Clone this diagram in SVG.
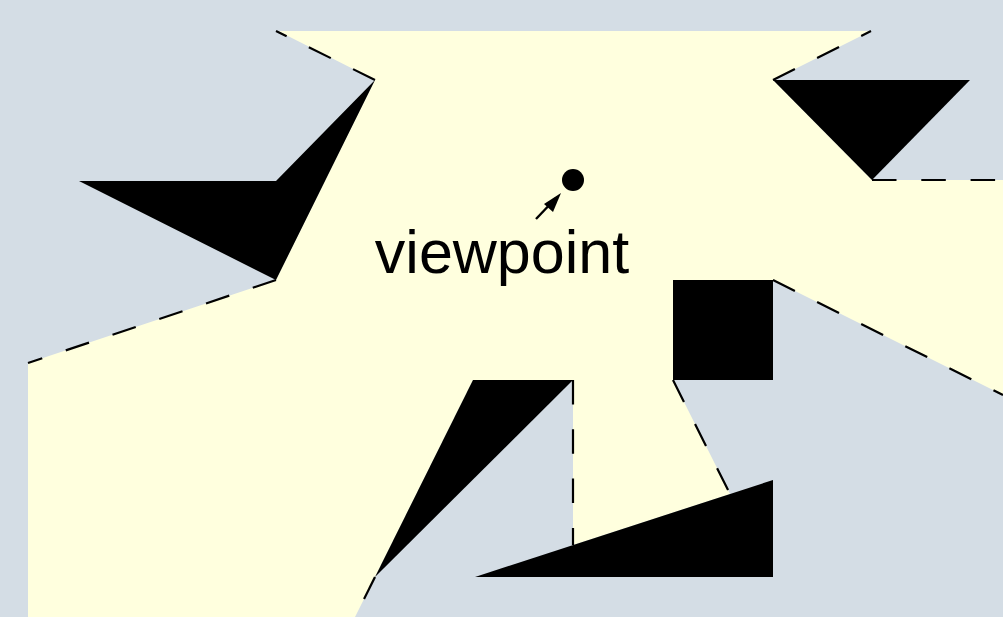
<svg xmlns="http://www.w3.org/2000/svg" width="1003" height="617" viewBox="0 0 1003 617">
<style>
.obs{fill:#000}
.ray{fill:none;stroke:#000;stroke-width:2.2;stroke-dasharray:24.5 24.8}
.lbl{font-family:"Liberation Sans",Arial,sans-serif;font-size:61px;fill:#000}
</style>
<defs>
<marker id="ah" markerWidth="8" markerHeight="8" refX="7" refY="4" orient="auto" markerUnits="strokeWidth">
<path d="M0,0 L7,4 L0,8 Z" fill="#000"/>
</marker>
</defs>
<rect id="background" x="0" y="0" width="1003" height="617" fill="#d4dde5"/>
<polygon id="visible" fill="#ffffde" points="278,31 871,31 773,80 872,180 1003,180 1003,395 773,280 673,280 673,380 730,494 573,545 573,380 473,380 375,577 355,617 28,617 28,363 276,280 375,80"/>
<g id="obstacles">
<polygon id="obstacle-left" class="obs" points="79,181 276,181 375,80 276,280"/>
<polygon id="obstacle-topright" class="obs" points="773,80 970,80 872,180"/>
<rect id="obstacle-square" class="obs" x="673" y="280" width="100" height="100"/>
<polygon id="obstacle-mid" class="obs" points="473,380 573,380 375,577"/>
<polygon id="obstacle-bottom" class="obs" points="475,577 773,480 773,577"/>
</g>
<g id="rays">
<line class="ray" x1="375" y1="80" x2="276" y2="31"/>
<line class="ray" x1="773" y1="80" x2="871" y2="31"/>
<line class="ray" x1="872" y1="180" x2="1003" y2="180"/>
<line class="ray" x1="773" y1="280" x2="1003" y2="395"/>
<line class="ray" x1="673" y1="380" x2="730" y2="494"/>
<line class="ray" x1="573" y1="380" x2="573" y2="545"/>
<line class="ray" x1="375" y1="577" x2="355" y2="617"/>
<line class="ray" x1="276" y1="280" x2="28" y2="363"/>
</g>
<g id="viewpoint">
<circle cx="573" cy="180" r="11" fill="#000"/>
<line x1="536" y1="219" x2="556" y2="198" stroke="#000" stroke-width="2.4"/>
<polygon points="561,193 544,204 553,212" fill="#000"/>
<text class="lbl" x="502" y="273" text-anchor="middle">viewpoint</text>
</g>
</svg>
